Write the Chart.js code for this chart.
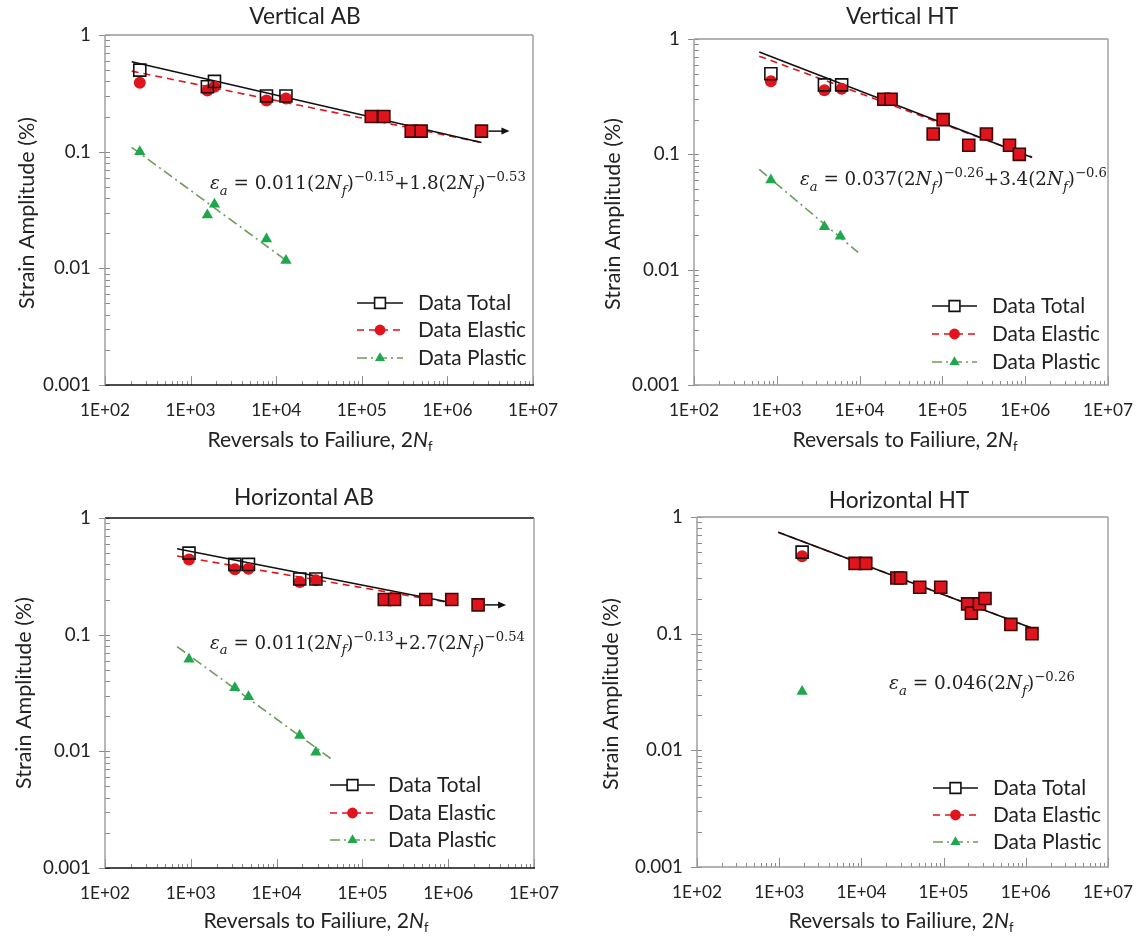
<!DOCTYPE html>
<html>
<head>
<meta charset="utf-8">
<title>Strain-life curves</title>
<script src="https://cdn.jsdelivr.net/npm/chart.js@4.4.1/dist/chart.umd.min.js"></script>
<style>
  html, body { margin: 0; padding: 0; background: #fff; }
  #page { position: relative; width: 1148px; height: 943px; overflow: hidden; }
  #page canvas { position: absolute; }
</style>
</head>
<body>
<div id="page">
  <canvas id="vab" width="574" height="471" style="left:0;top:0"></canvas>
  <canvas id="vht" width="574" height="471" style="left:574px;top:0"></canvas>
  <canvas id="hab" width="574" height="472" style="left:0;top:471px"></canvas>
  <canvas id="hht" width="574" height="472" style="left:574px;top:471px"></canvas>
</div>
<script>
"use strict";

// ---- shared axes ----
const xDecades = [1e2, 1e3, 1e4, 1e5, 1e6, 1e7];
const xTickLabels = ['1E+02', '1E+03', '1E+04', '1E+05', '1E+06', '1E+07'];
const yDecades = [0.001, 0.01, 0.1, 1];
const yTickLabels = ['0.001', '0.01', '0.1', '1'];
const seriesNames = ['Data Total', 'Data Elastic', 'Data Plastic'];

// ---- Vertical AB ----
const vabTotalX   = [255, 1570, 1900, 7700, 13000, 129000, 181000, 378000, 493000, 2500000];
const vabTotalY   = [0.50, 0.36, 0.40, 0.30, 0.30, 0.20, 0.20, 0.15, 0.15, 0.15];
const vabElasticY = [0.39, 0.335, 0.36, 0.275, 0.285, 0.20, 0.20, 0.15, 0.15, 0.15];
const vabPlasticX = [255, 1570, 1900, 7700, 13000];
const vabPlasticY = [0.10, 0.0286, 0.0355, 0.0178, 0.0117];
const vabFitX = [205, 2500000];
const vabFitTotalY = [0.59, 0.12];
const vabFitElasticY = [0.49, 0.12];
const vabFitPlasticX = [205, 14400];
const vabFitPlasticY = [0.109, 0.0111];
const vabRunout = [9];
const vabEqCoef = ['0.011', '1.8'];
const vabEqExp = ['−0.15', '−0.53'];

// ---- Vertical HT ----
const vhtTotalX   = [848, 3760, 6070, 19600, 24000, 77400, 102000, 208000, 340000, 646000, 849000];
const vhtTotalY   = [0.50, 0.40, 0.40, 0.30, 0.30, 0.15, 0.20, 0.12, 0.15, 0.12, 0.10];
const vhtElasticY = [0.43, 0.36, 0.37, 0.30, 0.30, 0.15, 0.20, 0.12, 0.15, 0.12, 0.10];
const vhtPlasticX = [848, 3760, 5860];
const vhtPlasticY = [0.060, 0.0235, 0.0195];
const vhtFitX = [614, 1210000];
const vhtFitTotalY = [0.77, 0.094];
const vhtFitElasticY = [0.71, 0.095];
const vhtFitPlasticX = [614, 9600];
const vhtFitPlasticY = [0.074, 0.0141];
const vhtRunout = [];
const vhtEqCoef = ['0.037', '3.4'];
const vhtEqExp = ['−0.26', '−0.6'];

// ---- Horizontal AB ----
const habTotalX   = [953, 3260, 4700, 18600, 28700, 180000, 237000, 548000, 1100000, 2230000];
const habTotalY   = [0.50, 0.40, 0.40, 0.30, 0.30, 0.20, 0.20, 0.20, 0.20, 0.18];
const habElasticY = [0.44, 0.363, 0.368, 0.283, 0.292, 0.20, 0.20, 0.20, 0.20, 0.18];
const habPlasticX = [953, 3260, 4700, 18600, 28700];
const habPlasticY = [0.0615, 0.0351, 0.0294, 0.0137, 0.0098];
const habFitX = [692, 1190000];
const habFitTotalY = [0.546, 0.186];
const habFitElasticY = [0.472, 0.185];
const habFitPlasticX = [692, 44400];
const habFitPlasticY = [0.079, 0.0085];
const habRunout = [9];
const habEqCoef = ['0.011', '2.7'];
const habEqExp = ['−0.13', '−0.54'];

// ---- Horizontal HT ----
const hhtTotalX   = [1900, 8370, 11300, 27000, 30000, 51200, 92300, 196000, 218000, 273000, 319000, 658000, 1190000];
const hhtTotalY   = [0.50, 0.40, 0.40, 0.30, 0.30, 0.25, 0.25, 0.18, 0.15, 0.18, 0.20, 0.12, 0.10];
const hhtElasticY = [0.46, 0.40, 0.40, 0.30, 0.30, 0.25, 0.25, 0.18, 0.15, 0.18, 0.20, 0.12, 0.10];
const hhtPlasticX = [1900];
const hhtPlasticY = [0.032];
const hhtFitX = [973, 1220000];
const hhtFitTotalY = [0.74, 0.111];
const hhtFitElasticY = [0.74, 0.111];
const hhtFitPlasticX = [];
const hhtFitPlasticY = [];
const hhtRunout = [];
const hhtEqCoef = ['0.046'];
const hhtEqExp = ['−0.26'];

// ---- colours / fonts ----
const RED = '#e0141c';
const RED_EDGE = '#3d0808';
const GREEN = '#1ea84c';
const GREEN_LINE = '#6f9a5e';
const INK = '#222';
const SANS = 'Lato, "Open Sans", sans-serif';
const SERIF = '"DejaVu Serif", serif';

// font sizes fitted to the widths the reference text takes
const meas = document.createElement('canvas').getContext('2d');
function fitSize(text, style, family, width) {
    meas.font = style + ' 100px ' + family;
    return 100 * width / meas.measureText(text).width;
}
const TITLE_PX = fitSize('Horizontal AB', '', SANS, 140);
const LEGEND_PX = fitSize('Data Elastic', '', SANS, 108);
const YTITLE_PX = fitSize('Strain Amplitude (%)', '', SANS, 192);
const XTITLE_PX = fitSize('Reversals to Failiure, 2N', '', SANS, 222);
const YTICK_PX = fitSize('0.001', '', SANS, 48);
const XTICK_PX = fitSize('1E+02', '', SANS, 50);

function pts(xs, ys) {
    return xs.map((x, i) => ({ x: x, y: ys[i] }));
}

function logTicks(decades) {
    const out = [];
    for (let i = 0; i < decades.length - 1; i++) {
        for (let m = 1; m <= 9; m++) out.push(m * decades[i]);
    }
    out.push(decades[decades.length - 1]);
    return out;
}

function decadeIndex(v, decades) {
    return decades.findIndex(d => Math.abs(Math.log10(d) - Math.log10(v)) < 1e-6);
}

function eqParts(coef, exp) {
    const parts = [{ t: 'ε', i: 1 }, { t: 'a', i: 1, sub: 1 }, { t: ' = ' }];
    coef.forEach((c, k) => {
        parts.push({ t: (k > 0 ? '+' : '') + c + '(2' }, { t: 'N', i: 1 }, { t: 'f', i: 1, sub: 1 },
                   { t: ')' }, { t: exp[k], sup: 1 });
    });
    return parts;
}

function eqRun(ctx, parts, size, x, y, draw) {
    let cx = x;
    parts.forEach(p => {
        let fs = size, dy = 0;
        if (p.sub) { fs = size * 0.72; dy = size * 0.3; }
        if (p.sup) { fs = size * 0.72; dy = -size * 0.45; }
        ctx.font = (p.i ? 'italic ' : '') + fs + 'px ' + SERIF;
        if (draw) ctx.fillText(p.t, cx, y + dy);
        cx += ctx.measureText(p.t).width;
    });
    return cx - x;
}

function drawEq(ctx, x, yMid, parts, width) {
    const size = 100 * width / eqRun(ctx, parts, 100, 0, 0, false);
    ctx.fillStyle = INK;
    ctx.textBaseline = 'alphabetic';
    ctx.textAlign = 'left';
    eqRun(ctx, parts, size, x, yMid + size * 0.33, true);
}

// ---- decoration plugin: frame, inner ticks, titles, equation, legend, run-out arrows ----
const decor = {
    id: 'decor',
    beforeDatasetsDraw(chart, args, o) {
        const ctx = chart.ctx, a = chart.chartArea;
        const xs = chart.scales.x, ys = chart.scales.y;
        ctx.save();
        ctx.lineWidth = 1;
        ctx.strokeStyle = '#8c8c8c';
        ys.ticks.forEach(t => {
            const py = Math.round(ys.getPixelForValue(t.value)) + 0.5;
            const major = decadeIndex(t.value, yDecades) >= 0;
            ctx.beginPath();
            ctx.moveTo(major ? a.left - 6 : a.left, py);
            ctx.lineTo(a.left + 5, py);
            ctx.stroke();
        });
        xs.ticks.forEach(t => {
            const px = Math.round(xs.getPixelForValue(t.value)) + 0.5;
            const major = decadeIndex(t.value, xDecades) >= 0;
            ctx.beginPath();
            ctx.moveTo(px, a.bottom);
            ctx.lineTo(px, a.bottom - (major ? 9 : 4));
            ctx.stroke();
        });
        const f = o.frame;
        const side = (c, x1, y1, x2, y2) => {
            ctx.strokeStyle = c;
            ctx.lineWidth = 1.4;
            ctx.beginPath(); ctx.moveTo(x1, y1); ctx.lineTo(x2, y2); ctx.stroke();
        };
        side(f[0], a.left, a.top, a.right, a.top);
        side(f[1], a.right, a.top, a.right, a.bottom);
        side(f[2], a.left, a.bottom, a.right + 1, a.bottom);
        side(f[3], a.left, a.top, a.left, a.bottom);
        ctx.restore();
    },
    afterDatasetsDraw(chart, args, o) {
        const ctx = chart.ctx;
        const ox = o.origin[0], oy = o.origin[1];
        const ds = chart.data.datasets;
        ctx.save();

        // run-out arrows
        const meta = chart.getDatasetMeta(0);
        ctx.strokeStyle = '#111';
        ctx.fillStyle = '#111';
        ctx.lineWidth = 1.5;
        o.runout.forEach(idx => {
            const el = meta.data[idx];
            ctx.beginPath(); ctx.moveTo(el.x + 7, el.y); ctx.lineTo(el.x + 22, el.y); ctx.stroke();
            ctx.beginPath();
            ctx.moveTo(el.x + 28, el.y); ctx.lineTo(el.x + 20, el.y - 3.5); ctx.lineTo(el.x + 20, el.y + 3.5);
            ctx.closePath(); ctx.fill();
        });

        // panel title
        ctx.fillStyle = INK;
        ctx.textAlign = 'center';
        ctx.textBaseline = 'middle';
        ctx.font = TITLE_PX + 'px ' + SANS;
        ctx.fillText(o.title, o.titlePos[0] - ox, o.titlePos[1] - oy);

        // y-axis title
        ctx.save();
        ctx.translate(o.yTitlePos[0] - ox, o.yTitlePos[1] - oy);
        ctx.rotate(-Math.PI / 2);
        ctx.font = YTITLE_PX + 'px ' + SANS;
        ctx.fillText('Strain Amplitude (%)', 0, 0);
        ctx.restore();

        // x-axis title with italic N and subscript f
        const xt = 'Reversals to Failiure, 2';
        const fs = XTITLE_PX, fsub = XTITLE_PX * 0.62;
        ctx.font = fs + 'px ' + SANS;
        const w1 = ctx.measureText(xt).width;
        ctx.font = 'italic ' + fs + 'px ' + SANS;
        const w2 = ctx.measureText('N').width;
        ctx.font = fsub + 'px ' + SANS;
        const w3 = ctx.measureText('f').width;
        let tx = o.xTitlePos[0] - ox - (w1 + w2 + w3) / 2;
        const ty = o.xTitlePos[1] - oy;
        ctx.textAlign = 'left';
        ctx.font = fs + 'px ' + SANS; ctx.fillText(xt, tx, ty); tx += w1;
        ctx.font = 'italic ' + fs + 'px ' + SANS; ctx.fillText('N', tx, ty); tx += w2;
        ctx.font = fsub + 'px ' + SANS; ctx.fillText('f', tx, ty + fs * 0.3);

        // equation
        drawEq(ctx, o.eqPos[0] - ox, o.eqPos[1] - oy, o.eq, o.eqWidth);

        // legend: fit-line style with the marker in the middle
        const lg = o.legend;
        for (let i = 0; i < 3; i++) {
            const mark = ds[i], line = ds[i + 3];
            const yy = lg.rows[i] - oy;
            const x0 = lg.x0 - ox, x1 = lg.x1 - ox;
            ctx.strokeStyle = line.borderColor;
            ctx.lineWidth = 1.7;
            ctx.setLineDash(line.borderDash || []);
            ctx.beginPath(); ctx.moveTo(x0, yy); ctx.lineTo(x1, yy); ctx.stroke();
            ctx.setLineDash([]);
            ctx.fillStyle = i === 0 ? '#fff' : mark.pointBackgroundColor;
            ctx.strokeStyle = i === 0 ? '#111' : mark.pointBackgroundColor;
            ctx.lineWidth = 1.6;
            Chart.helpers.drawPoint(ctx, {
                pointStyle: mark.pointStyle, rotation: 0,
                radius: mark.pointRadius * 0.9, borderWidth: i === 0 ? 1.6 : 0
            }, (x0 + x1) / 2, yy);
            ctx.fillStyle = INK;
            ctx.textAlign = 'left';
            ctx.textBaseline = 'middle';
            ctx.font = LEGEND_PX + 'px ' + SANS;
            ctx.fillText(mark.label, lg.tx - ox, yy);
        }
        ctx.restore();
    }
};

function makeChart(id, d, look) {
    const sameAsTotal = i => d.elasticY[i] === d.totalY[i];
    const datasets = [
        {
            label: seriesNames[0], data: pts(d.totalX, d.totalY),
            pointStyle: 'rect', pointRadius: 8.5, pointBorderWidth: 1.6,
            pointBorderColor: c => sameAsTotal(c.dataIndex) ? RED_EDGE : '#111',
            pointBackgroundColor: c => sameAsTotal(c.dataIndex) ? RED : 'rgba(255,255,255,0)'
        },
        {
            label: seriesNames[1], data: pts(d.totalX, d.elasticY),
            pointStyle: 'circle', pointRadius: 6, pointBorderWidth: 0,
            pointBackgroundColor: RED
        },
        {
            label: seriesNames[2], data: pts(d.plasticX, d.plasticY),
            pointStyle: 'triangle', pointRadius: 6.5, pointBorderWidth: 0,
            pointBackgroundColor: GREEN
        },
        {
            label: 'Total fit', data: pts(d.fitX, d.fitTotalY), showLine: true,
            borderColor: '#111', borderWidth: 1.6, pointRadius: 0
        },
        {
            label: 'Elastic fit', data: pts(d.fitX, d.fitElasticY), showLine: true,
            borderColor: RED, borderWidth: 1.6, borderDash: [7, 5], pointRadius: 0
        },
        {
            label: 'Plastic fit', data: pts(d.fitPlasticX, d.fitPlasticY), showLine: true,
            borderColor: GREEN_LINE, borderWidth: 1.6, borderDash: [10, 4, 2, 4], pointRadius: 0
        }
    ];

    const axis = (decades, labels, fit, pad, fontSize) => ({
        type: 'logarithmic',
        min: decades[0],
        max: decades[decades.length - 1],
        grid: { display: false, drawTicks: false },
        border: { display: false },
        afterBuildTicks: s => { s.ticks = logTicks(decades).map(v => ({ value: v })); },
        afterFit: fit,
        ticks: {
            autoSkip: false, maxRotation: 0, padding: pad, color: INK,
            font: { family: SANS, size: fontSize },
            callback: v => {
                const k = decadeIndex(v, decades);
                return k < 0 ? '' : labels[k];
            }
        }
    });

    return new Chart(document.getElementById(id), {
        type: 'scatter',
        data: { datasets: datasets },
        plugins: [decor],
        options: {
            responsive: false,
            animation: false,
            events: [],
            layout: { padding: look.padding },
            scales: {
                x: axis(xDecades, xTickLabels, s => { s.height = 50; }, 15, XTICK_PX),
                y: axis(yDecades, yTickLabels, s => { s.width = 70; }, 14, YTICK_PX)
            },
            plugins: {
                legend: { display: false },
                tooltip: { enabled: false },
                decor: {
                    origin: look.origin, frame: look.frame, title: look.title,
                    titlePos: look.titlePos, yTitlePos: look.yTitlePos, xTitlePos: look.xTitlePos,
                    eq: eqParts(d.eqCoef, d.eqExp), eqPos: look.eqPos, eqWidth: look.eqWidth,
                    legend: look.legend, runout: d.runout
                }
            }
        }
    });
}

const GRAY = '#9a9a9a', BLACK = '#111';

makeChart('vab', {
    totalX: vabTotalX, totalY: vabTotalY, elasticY: vabElasticY,
    plasticX: vabPlasticX, plasticY: vabPlasticY,
    fitX: vabFitX, fitTotalY: vabFitTotalY, fitElasticY: vabFitElasticY,
    fitPlasticX: vabFitPlasticX, fitPlasticY: vabFitPlasticY,
    runout: vabRunout, eqCoef: vabEqCoef, eqExp: vabEqExp
}, {
    origin: [0, 0], padding: { left: 35, top: 35, right: 41, bottom: 36 },
    frame: [GRAY, GRAY, BLACK, GRAY], title: 'Vertical AB',
    titlePos: [305, 17], yTitlePos: [27, 213], xTitlePos: [320, 440],
    eqPos: [210, 183], eqWidth: 316,
    legend: { x0: 357, x1: 403, tx: 418, rows: [303, 330, 358] }
});

makeChart('vht', {
    totalX: vhtTotalX, totalY: vhtTotalY, elasticY: vhtElasticY,
    plasticX: vhtPlasticX, plasticY: vhtPlasticY,
    fitX: vhtFitX, fitTotalY: vhtFitTotalY, fitElasticY: vhtFitElasticY,
    fitPlasticX: vhtFitPlasticX, fitPlasticY: vhtFitPlasticY,
    runout: vhtRunout, eqCoef: vhtEqCoef, eqExp: vhtEqExp
}, {
    origin: [574, 0], padding: { left: 50, top: 39, right: 31, bottom: 36 },
    frame: [GRAY, GRAY, GRAY, GRAY], title: 'Vertical HT',
    titlePos: [902, 17], yTitlePos: [613, 214], xTitlePos: [905, 440],
    eqPos: [800, 179], eqWidth: 307,
    legend: { x0: 932, x1: 977, tx: 992, rows: [306, 334, 362] }
});

makeChart('hab', {
    totalX: habTotalX, totalY: habTotalY, elasticY: habElasticY,
    plasticX: habPlasticX, plasticY: habPlasticY,
    fitX: habFitX, fitTotalY: habFitTotalY, fitElasticY: habFitElasticY,
    fitPlasticX: habFitPlasticX, fitPlasticY: habFitPlasticY,
    runout: habRunout, eqCoef: habEqCoef, eqExp: habEqExp
}, {
    origin: [0, 471], padding: { left: 35, top: 47, right: 40, bottom: 25 },
    frame: [BLACK, GRAY, BLACK, GRAY], title: 'Horizontal AB',
    titlePos: [304, 498], yTitlePos: [24, 693], xTitlePos: [316, 921],
    eqPos: [210, 643], eqWidth: 315,
    legend: { x0: 330, x1: 375, tx: 388, rows: [785, 813, 840] }
});

makeChart('hht', {
    totalX: hhtTotalX, totalY: hhtTotalY, elasticY: hhtElasticY,
    plasticX: hhtPlasticX, plasticY: hhtPlasticY,
    fitX: hhtFitX, fitTotalY: hhtFitTotalY, fitElasticY: hhtFitElasticY,
    fitPlasticX: hhtFitPlasticX, fitPlasticY: hhtFitPlasticY,
    runout: hhtRunout, eqCoef: hhtEqCoef, eqExp: hhtEqExp
}, {
    origin: [574, 471], padding: { left: 53, top: 46, right: 34, bottom: 26 },
    frame: [GRAY, GRAY, GRAY, GRAY], title: 'Horizontal HT',
    titlePos: [899, 501], yTitlePos: [611, 694], xTitlePos: [901, 921],
    eqPos: [889, 683], eqWidth: 186,
    legend: { x0: 933, x1: 978, tx: 993, rows: [788, 815, 842] }
});
</script>
</body>
</html>
